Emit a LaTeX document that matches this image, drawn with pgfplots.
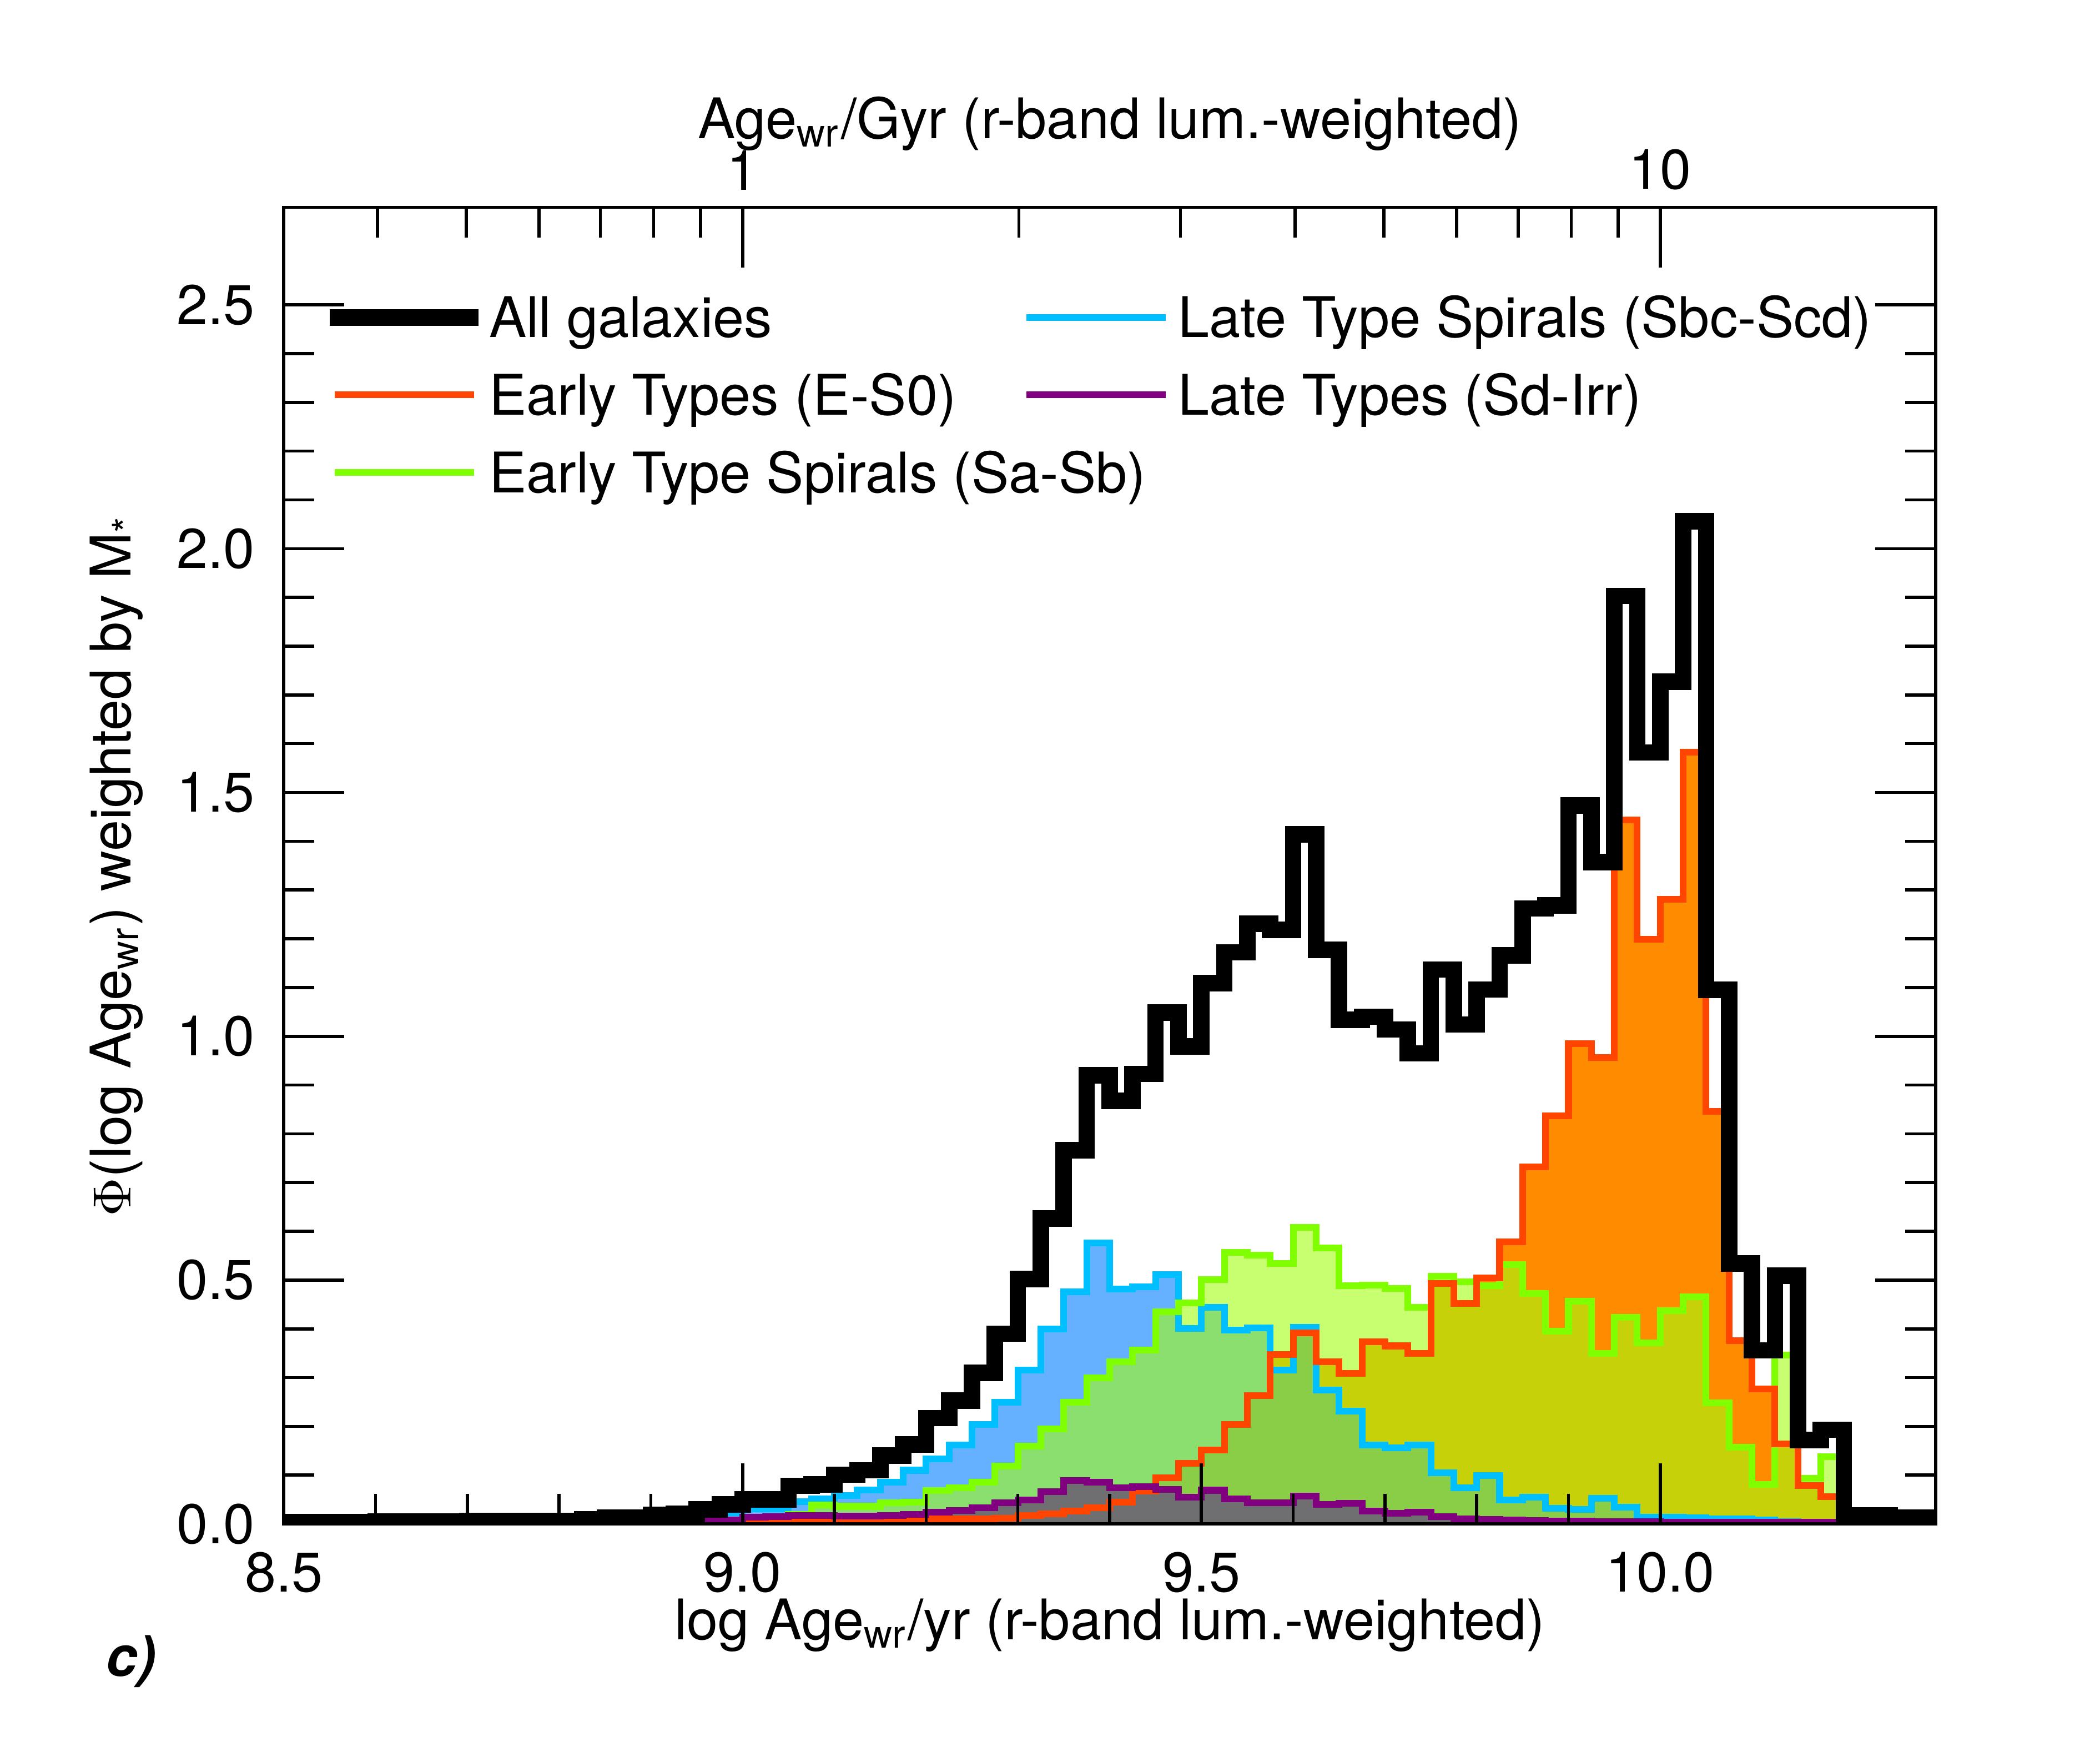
\documentclass[border=0pt]{standalone}
\usepackage{fontspec}
\setmainfont{TeX Gyre Heros}
\usepackage{pgfplots}
\pgfplotsset{compat=1.18}
\usepackage{pgfplotstable}
\definecolor{cOrLine}{RGB}{255,69,0}
\definecolor{cOrFill}{RGB}{255,140,0}
\definecolor{cGrLine}{RGB}{127,255,0}
\definecolor{cGrFill}{RGB}{163,255,17}
\definecolor{cBlLine}{RGB}{0,191,255}
\definecolor{cBlFill}{RGB}{0,125,255}
\definecolor{cPuLine}{RGB}{128,0,128}
\definecolor{cPuFill}{RGB}{111,111,114}

\pgfplotstableread{
x      all    E      Sab    Sbc    Sd
8.500  0.004  0.004  0.002  0.002  0.002
8.525  0.004  0.004  0.002  0.002  0.002
8.550  0.004  0.004  0.002  0.002  0.002
8.575  0.004  0.004  0.002  0.003  0.002
8.600  0.005  0.004  0.002  0.003  0.002
8.625  0.005  0.004  0.002  0.003  0.002
8.650  0.005  0.004  0.002  0.003  0.002
8.675  0.005  0.004  0.003  0.003  0.003
8.700  0.006  0.004  0.003  0.003  0.003
8.725  0.006  0.004  0.003  0.004  0.003
8.750  0.006  0.004  0.003  0.004  0.003
8.775  0.006  0.004  0.003  0.004  0.003
8.800  0.006  0.004  0.003  0.005  0.003
8.825  0.009  0.004  0.003  0.007  0.003
8.850  0.013  0.004  0.003  0.009  0.004
8.875  0.013  0.004  0.004  0.010  0.004
8.900  0.019  0.005  0.004  0.012  0.005
8.925  0.021  0.005  0.004  0.013  0.006
8.950  0.030  0.005  0.005  0.017  0.007
8.975  0.040  0.005  0.006  0.023  0.008
9.000  0.050  0.005  0.010  0.031  0.014
9.025  0.050  0.005  0.013  0.031  0.015
9.050  0.078  0.006  0.020  0.046  0.017
9.075  0.081  0.006  0.039  0.051  0.017
9.100  0.101  0.006  0.036  0.058  0.016
9.125  0.110  0.006  0.036  0.070  0.016
9.150  0.140  0.008  0.043  0.085  0.017
9.175  0.163  0.009  0.045  0.110  0.019
9.200  0.217  0.010  0.068  0.133  0.024
9.225  0.253  0.010  0.074  0.162  0.028
9.250  0.310  0.010  0.085  0.204  0.033
9.275  0.390  0.011  0.119  0.250  0.043
9.300  0.502  0.017  0.160  0.315  0.049
9.325  0.626  0.021  0.195  0.400  0.066
9.350  0.766  0.026  0.250  0.476  0.089
9.375  0.920  0.033  0.299  0.576  0.086
9.400  0.868  0.044  0.333  0.482  0.074
9.425  0.923  0.067  0.357  0.486  0.076
9.450  1.049  0.095  0.435  0.511  0.071
9.475  0.979  0.124  0.453  0.401  0.055
9.500  1.109  0.151  0.501  0.444  0.069
9.525  1.172  0.204  0.557  0.397  0.051
9.550  1.231  0.263  0.551  0.402  0.043
9.575  1.218  0.347  0.534  0.316  0.043
9.600  1.414  0.392  0.608  0.403  0.057
9.625  1.177  0.332  0.566  0.275  0.040
9.650  1.034  0.309  0.488  0.231  0.042
9.675  1.040  0.374  0.490  0.162  0.026
9.700  1.014  0.365  0.483  0.156  0.022
9.725  0.965  0.350  0.444  0.162  0.024
9.750  1.137  0.493  0.508  0.105  0.015
9.775  1.024  0.452  0.496  0.074  0.010
9.800  1.096  0.504  0.489  0.099  0.009
9.825  1.166  0.578  0.532  0.049  0.008
9.850  1.262  0.732  0.473  0.055  0.007
9.875  1.268  0.837  0.395  0.032  0.006
9.900  1.473  0.985  0.457  0.030  0.006
9.925  1.357  0.956  0.350  0.052  0.005
9.950  1.903  1.444  0.424  0.034  0.005
9.975  1.582  1.199  0.371  0.014  0.005
10.000 1.727  1.281  0.437  0.014  0.004
10.025 2.056  1.583  0.466  0.013  0.004
10.050 1.095  0.846  0.248  0.010  0.004
10.075 0.534  0.376  0.157  0.010  0.004
10.100 0.356  0.277  0.081  0.008  0.003
10.125 0.509  0.164  0.346  0.005  0.003
10.150 0.172  0.079  0.093  0.004  0.003
10.175 0.193  0.056  0.138  0.003  0.003
10.200 0.017  0.009  0.002  0.002  0.002
10.225 0.017  0.009  0.001  0.002  0.002
10.250 0.013  0.006  0.001  0.002  0.002
10.275 0.013  0.006  0.001  0.002  0.002
10.300 0.013  0.006  0.001  0.002  0.002
}\hist

\pgfplotsset{
  commonaxis/.style={
    at={(0pt,0pt)}, anchor=south west,
    scale only axis, width=306.75pt, height=244.5pt,
    xmin=8.5, xmax=10.3, ymin=0, ymax=2.7,
    major tick length=11.2pt, minor tick length=5.6pt,
    every tick/.append style={line width=0.58pt, black},
    axis line style={line width=0.58pt},
    tick align=inside,
    /pgf/number format/assume math mode=true,
    legend cell align=left,
    legend image code/.code={\draw[#1, line cap=rect] (0pt,0pt) -- (24.6pt,0pt);},
  },
}

\begin{document}
\fontsize{10.4pt}{12.5pt}\selectfont
\begin{tikzpicture}
\path[use as bounding box] (-52.7pt,-43.2pt) rectangle (337.3pt,283pt);
\begin{axis}[
  commonaxis,
  axis on top,
  xtick={8.5,9,9.5,10}, minor x tick num=4,
  ytick={0,0.5,1,1.5,2,2.5}, minor y tick num=4,
  xtick pos=left, ytick pos=both,
  xticklabel style={/pgf/number format/fixed, /pgf/number format/fixed zerofill, /pgf/number format/precision=1, inner sep=0pt, anchor=north, yshift=-5pt},
  yticklabel style={/pgf/number format/fixed, /pgf/number format/fixed zerofill, /pgf/number format/precision=1, inner sep=0pt, anchor=east, xshift=-5.2pt},
  legend style={at={(0.02787,0.93150)}, anchor=north west, draw=none, fill=none,
    inner sep=0pt, outer sep=0pt, row sep=7pt, column sep=1.95pt,
    nodes={inner sep=0pt, text height=7.4pt, text depth=0pt}},
]
% fills
\addplot[draw=none, fill=cOrFill, const plot, mark=none, forget plot] table[x=x,y=E]{\hist} \closedcycle;
\addplot[draw=none, fill=cBlFill, fill opacity=0.6, const plot, mark=none, forget plot] table[x=x,y=Sbc]{\hist} \closedcycle;
\addplot[draw=none, fill=cGrFill, fill opacity=0.6, const plot, mark=none, forget plot] table[x=x,y=Sab]{\hist} \closedcycle;
\addplot[draw=none, fill=cPuFill, const plot, mark=none, forget plot] table[x=x,y=Sd]{\hist} \closedcycle;
% outlines
\addplot[cBlLine, line width=1.24pt, line join=miter, const plot, mark=none, forget plot] table[x=x,y=Sbc]{\hist};
\addplot[cGrLine, line width=1.24pt, line join=miter, const plot, mark=none, forget plot] table[x=x,y=Sab]{\hist};
\addplot[cOrLine, line width=1.24pt, line join=miter, const plot, mark=none, forget plot] table[x=x,y=E]{\hist};
\addplot[cPuLine, line width=1.24pt, line join=miter, const plot, mark=none, forget plot] table[x=x,y=Sd]{\hist};
\addplot[black, line width=3.06pt, line join=miter, const plot, mark=none, forget plot] table[x=x,y=all]{\hist};
% legend (first column)
\addlegendimage{black, line width=3.06pt}
\addlegendentry{All galaxies}
\addlegendimage{cOrLine, line width=1.24pt}
\addlegendentry{Early Types (E-S0)}
\addlegendimage{cGrLine, line width=1.24pt}
\addlegendentry{Early Type Spirals (Sa-Sb)}
\end{axis}
\begin{axis}[
  commonaxis,
  axis x line*=top, axis y line=none,
  xtick={9,10}, xticklabels={1,10},
  minor xtick={8.60206,8.69897,8.77815,8.84510,8.90309,8.95424,9.30103,9.47712,9.60206,9.69897,9.77815,9.84510,9.90309,9.95424},
  xticklabel style={inner sep=0pt, anchor=south, yshift=3pt},
  legend style={at={(0.44955,0.93150)}, anchor=north west, draw=none, fill=none,
    inner sep=0pt, outer sep=0pt, row sep=7pt, column sep=2.35pt,
    nodes={inner sep=0pt, text height=7.4pt, text depth=0pt}},
]
\addlegendimage{cBlLine, line width=1.24pt}
\addlegendentry{Late Type Spirals (Sbc-Scd)}
\addlegendimage{cPuLine, line width=1.24pt}
\addlegendentry{Late Types (Sd-Irr)}
\end{axis}
\node[anchor=base, inner sep=0pt] at (153.4pt,-21.5pt) {log Age\textsubscript{wr}/yr (r-band lum.-weighted)};
\node[anchor=base, inner sep=0pt] at (153.4pt,257.25pt) {Age\textsubscript{wr}/Gyr (r-band lum.-weighted)};
\node[anchor=base, rotate=90, inner sep=0pt] at (-28.45pt,122.25pt) {$\Phi$(log Age\textsubscript{wr}) weighted by M\textsubscript{*}};
\node[anchor=base west, inner sep=0pt] at (-33.2pt,-28.25pt) {\bfseries\itshape c)};
\end{tikzpicture}
\end{document}
